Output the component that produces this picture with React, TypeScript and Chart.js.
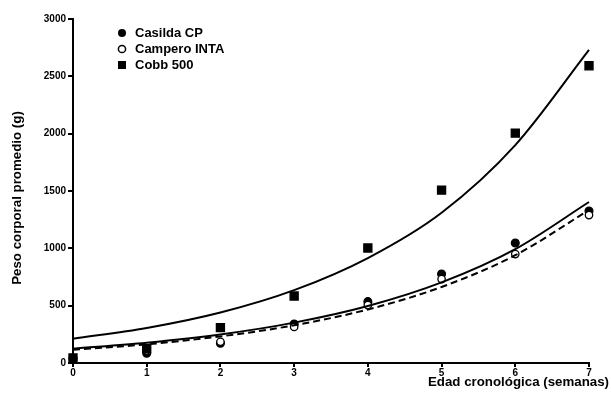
import React, { useEffect, useRef } from "react";
import { Chart, registerables } from "chart.js";

Chart.register(...registerables);

const weeks = [0, 1, 2, 3, 4, 5, 6, 7];
const casildaValues = [40, 85, 172, 340, 535, 776, 1046, 1325];
const camperoValues = [40, 110, 185, 314, 505, 732, 950, 1290];
const cobbValues = [44, 125, 308, 584, 1003, 1508, 2005, 2592];

// fitted growth curves at each week
const casildaFit = [125, 177, 249, 352, 497, 703, 993, 1404];
const camperoFit = [115, 163, 232, 329, 467, 663, 940, 1334];
const cobbFit = [212, 305, 440, 635, 915, 1310, 1900, 2730];

const seriesNames = ["Casilda CP", "Campero INTA", "Cobb 500"];
const xTitle = "Edad cronológica (semanas)";
const yTitle = "Peso corporal promedio (g)";
const xTicks = [0, 1, 2, 3, 4, 5, 6, 7];
const yTicks = [0, 500, 1000, 1500, 2000, 2500, 3000];

const FONT = "Arial, 'Liberation Sans', sans-serif";

const toXY = (vals: number[]) => vals.map((v, i) => ({ x: weeks[i], y: v }));

const overlayPlugin = {
  id: "overlay",
  afterDraw(chart: any) {
    const ctx = chart.ctx;
    ctx.save();
    ctx.fillStyle = "#000";
    ctx.strokeStyle = "#000";
    // legend
    ctx.font = `bold 13px ${FONT}`;
    ctx.textBaseline = "middle";
    ctx.textAlign = "left";
    const rows = [33, 49, 65];
    const mx = 122;
    ctx.beginPath();
    ctx.arc(mx, rows[0], 4, 0, Math.PI * 2);
    ctx.fill();
    ctx.beginPath();
    ctx.lineWidth = 1.5;
    ctx.arc(mx, rows[1], 3.6, 0, Math.PI * 2);
    ctx.fillStyle = "#fff";
    ctx.fill();
    ctx.stroke();
    ctx.fillStyle = "#000";
    ctx.fillRect(mx - 4, rows[2] - 4, 8, 8);
    seriesNames.forEach((n, i) => ctx.fillText(n, 135, rows[i] + 0.5));

    // x title
    ctx.font = `bold 13.3px ${FONT}`;
    ctx.textAlign = "right";
    ctx.textBaseline = "alphabetic";
    ctx.fillText(xTitle, 609, 386);

    // y title
    ctx.translate(21, 198);
    ctx.rotate(-Math.PI / 2);
    ctx.font = `bold 13.3px ${FONT}`;
    ctx.textAlign = "center";
    ctx.textBaseline = "alphabetic";
    ctx.fillText(yTitle, 0, 0);
    ctx.restore();
  },
};

export default function App() {
  const ref = useRef<HTMLCanvasElement>(null);
  useEffect(() => {
    if (!ref.current) return;
    const pointDs = (label: string, vals: number[], style: string, fill: string, radius: number) => ({
      type: "line" as const,
      label,
      data: toXY(vals),
      showLine: false,
      pointStyle: style,
      pointRadius: radius,
      pointBackgroundColor: fill,
      pointBorderColor: "#000",
      pointBorderWidth: 1.3,
      borderColor: "#000",
      backgroundColor: fill,
    });
    const lineDs = (label: string, vals: number[], dash: number[]) => ({
      type: "line" as const,
      label,
      data: toXY(vals),
      borderColor: "#000",
      borderWidth: 2,
      borderDash: dash,
      pointRadius: 0,
      cubicInterpolationMode: "monotone" as const,
      fill: false,
    });
    const tickFont = { family: FONT, size: 10, weight: "bold" as const };
    const chart = new Chart(ref.current, {
      type: "line",
      data: {
        datasets: [
          lineDs("fit Cobb", cobbFit, []),
          lineDs("fit Casilda", casildaFit, []),
          lineDs("fit Campero", camperoFit, [7, 4]),
          pointDs(seriesNames[2], cobbValues, "rect", "#000", 5.7),
          pointDs(seriesNames[1], camperoValues, "circle", "#fff", 3.7),
          pointDs(seriesNames[0], casildaValues, "circle", "#000", 3.9),
        ] as any,
      },
      options: {
        animation: false,
        responsive: false,
        clip: false as any,
        layout: { padding: { left: 0, right: 22, top: 19, bottom: 0 } },
        plugins: { legend: { display: false }, tooltip: { enabled: false } },
        scales: {
          x: {
            type: "linear",
            min: 0,
            max: 7,
            afterFit: (s: any) => {
              s.height = 35;
            },
            afterBuildTicks: (s: any) => {
              s.ticks = xTicks.map((v) => ({ value: v }));
            },
            grid: { drawOnChartArea: false, drawTicks: true, tickLength: 4, color: "#000", lineWidth: 2 },
            border: { display: true, color: "#000", width: 2 },
            ticks: { color: "#000", font: tickFont, padding: 0, maxRotation: 0, callback: (v: any) => String(v) },
          },
          y: {
            type: "linear",
            min: 0,
            max: 3000,
            afterFit: (s: any) => {
              s.width = 73;
            },
            afterBuildTicks: (s: any) => {
              s.ticks = yTicks.map((v) => ({ value: v }));
            },
            grid: { drawOnChartArea: false, drawTicks: true, tickLength: 5, color: "#000", lineWidth: 2 },
            border: { display: true, color: "#000", width: 2 },
            ticks: { color: "#000", font: tickFont, padding: 2, callback: (v: any) => String(v) },
          },
        },
      },
      plugins: [overlayPlugin],
    });
    return () => chart.destroy();
  }, []);
  return (
    <div style={{ position: "fixed", left: 0, top: 0, width: 611, height: 398, background: "#fff" }}>
      <canvas ref={ref} width={611} height={398} />
    </div>
  );
}
